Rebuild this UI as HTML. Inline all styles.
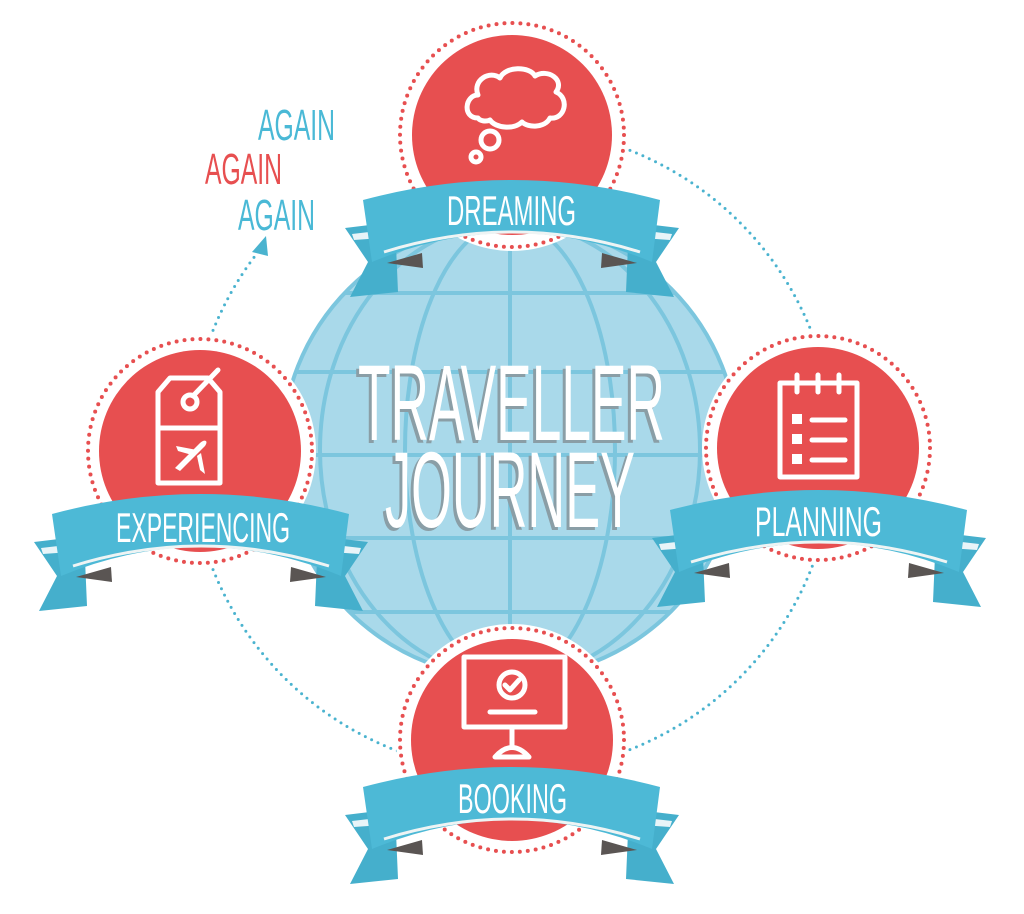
<!DOCTYPE html>
<html><head><meta charset="utf-8"><style>
html,body{margin:0;padding:0;background:#fff;}
svg{display:block;}
text{font-family:"Liberation Sans",sans-serif;}
</style></head><body>
<svg width="1024" height="914" viewBox="0 0 1024 914" xmlns="http://www.w3.org/2000/svg">
<defs>
<clipPath id="gc"><circle cx="510" cy="450" r="228"/></clipPath>
<g id="rib">
  <path d="M-167,18 L-117,12 L-114,82 L-162,87 L-144,52 Z" fill="#45afcc"/>
  <path d="M167,18 L117,12 L114,82 L162,87 L144,52 Z" fill="#45afcc"/>
  <path d="M-160,24 L-117,19 L-117,27 L-158,30 Z" fill="#e8f4f8"/>
  <path d="M160,24 L117,19 L117,27 L158,30 Z" fill="#e8f4f8"/>
  <path d="M-149,-10 Q0,-50 148,-10 L140,52 Q0,-6 -140,52 Z" fill="#4db9d6"/>
  <path d="M-128,42 Q0,2 128,42" stroke="#eef4f4" stroke-width="3" fill="none"/>
  <path d="M-125,53 L-90,43 L-89,58 Z" fill="#5a5553"/>
  <path d="M125,53 L90,43 L89,58 Z" fill="#5a5553"/>
</g>
</defs>

<!-- globe -->
<circle cx="510" cy="450" r="228" fill="#a9d9ea"/>
<g clip-path="url(#gc)" stroke="#7cc6de" stroke-width="4" fill="none">
  <line x1="280" y1="293" x2="740" y2="293"/>
  <line x1="280" y1="372" x2="740" y2="372"/>
  <line x1="280" y1="455" x2="740" y2="455"/>
  <line x1="280" y1="538" x2="740" y2="538"/>
  <line x1="280" y1="612" x2="740" y2="612"/>
  <line x1="510" y1="220" x2="510" y2="680"/>
  <ellipse cx="510" cy="450" rx="105" ry="228"/>
  <ellipse cx="510" cy="450" rx="190" ry="228"/>
</g>
<circle cx="510" cy="450" r="228" fill="none" stroke="#7cc6de" stroke-width="4"/>

<!-- connector dotted circle -->
<circle cx="512" cy="450" r="322" fill="none" stroke="#4ab3cf" stroke-width="3" stroke-dasharray="0 7" stroke-linecap="round"/>
<path d="M262,246 L270,100 L420,100 L420,200 Z" fill="#fff"/>
<rect x="215" y="120" width="140" height="120" fill="#fff"/>
<path d="M252,252 L266,236 L268,256 Z" fill="#4ab3cf"/>

<!-- AGAIN -->
<text x="258" y="140" font-size="44" fill="#4ab9d6" textLength="77" lengthAdjust="spacingAndGlyphs">AGAIN</text>
<text x="205" y="184" font-size="44" fill="#e74f50" textLength="77" lengthAdjust="spacingAndGlyphs">AGAIN</text>
<text x="238" y="230" font-size="44" fill="#4ab9d6" textLength="77" lengthAdjust="spacingAndGlyphs">AGAIN</text>

<!-- title -->
<g font-size="108">
<text x="355" y="443" fill="#8a9ea6" textLength="307" lengthAdjust="spacingAndGlyphs">TRAVELLER</text>
<text x="358" y="440" fill="#fff" textLength="307" lengthAdjust="spacingAndGlyphs">TRAVELLER</text>
<text x="382" y="530" fill="#8a9ea6" textLength="250" lengthAdjust="spacingAndGlyphs">JOURNEY</text>
<text x="385" y="527" fill="#fff" textLength="250" lengthAdjust="spacingAndGlyphs">JOURNEY</text>
</g>

<!-- nodes -->
<g>
<circle cx="512" cy="135" r="116" fill="#fff"/>
<circle cx="512" cy="135" r="112" fill="none" stroke="#e74f50" stroke-width="4" stroke-dasharray="0 8" stroke-linecap="round"/>
<circle cx="512" cy="135" r="100" fill="#e74f50"/>
<circle cx="200" cy="451" r="116" fill="#fff"/>
<circle cx="200" cy="451" r="112" fill="none" stroke="#e74f50" stroke-width="4" stroke-dasharray="0 8" stroke-linecap="round"/>
<circle cx="200" cy="451" r="101" fill="#e74f50"/>
<circle cx="818" cy="448" r="116" fill="#fff"/>
<circle cx="818" cy="448" r="112" fill="none" stroke="#e74f50" stroke-width="4" stroke-dasharray="0 8" stroke-linecap="round"/>
<circle cx="818" cy="448" r="101" fill="#e74f50"/>
<circle cx="512" cy="740" r="116" fill="#fff"/>
<circle cx="512" cy="740" r="112" fill="none" stroke="#e74f50" stroke-width="4" stroke-dasharray="0 8" stroke-linecap="round"/>
<circle cx="512" cy="740" r="101" fill="#e74f50"/>
</g>

<!-- icons -->
<g fill="none" stroke="#fff" stroke-width="5" stroke-linecap="round" stroke-linejoin="round">
  <path d="M478,118 C462,118 465,95 478,95 C472,80 490,70 500,78 C505,66 530,66 535,76 C548,68 565,80 556,92 C570,98 565,120 550,118 C545,128 528,128 522,122 C514,130 495,128 490,120 C486,122 480,121 478,118 Z"/>
  <circle cx="490" cy="140" r="9"/>
  <circle cx="476" cy="157" r="5"/>
  <path d="M170,378 L208,378 L220,392 L220,483 L158,483 L158,392 Z"/>
  <line x1="158" y1="428" x2="220" y2="428"/>
  <circle cx="190" cy="402" r="7"/>
  <path d="M193,396 L218,370"/>
  <rect x="780" y="383" width="77" height="94"/>
  <line x1="797" y1="375" x2="797" y2="392"/>
  <line x1="818" y1="375" x2="818" y2="392"/>
  <line x1="839" y1="375" x2="839" y2="392"/>
  <line x1="812" y1="420" x2="845" y2="420"/>
  <line x1="812" y1="440" x2="845" y2="440"/>
  <line x1="812" y1="460" x2="845" y2="460"/>
  <rect x="464" y="657" width="101" height="70"/>
  <circle cx="512" cy="685" r="13"/>
  <path d="M505,685 L510,690 L519,680"/>
  <line x1="490" y1="712" x2="535" y2="712"/>
  <line x1="512" y1="727" x2="512" y2="745"/>
  <path d="M495,757 Q512,738 529,757 Z"/>
</g>
<g fill="#fff">
  <path d="M175,468 L200,443 C204,439 209,440 205,446 L180,471 Z"/>
  <path d="M176,446 L197,450 L192,455 L178,451 Z"/>
  <path d="M201,453 L205,474 L200,470 L197,456 Z"/>
  <rect x="792" y="414" width="10" height="10"/>
  <rect x="792" y="434" width="10" height="10"/>
  <rect x="792" y="454" width="10" height="10"/>
</g>

<!-- ribbons -->
<use href="#rib" transform="translate(512,210)"/>
<use href="#rib" transform="translate(201,524)"/>
<use href="#rib" transform="translate(819,520)"/>
<use href="#rib" transform="translate(512,797)"/>

<g font-size="42" fill="#fff">
<text x="447" y="225" textLength="129" lengthAdjust="spacingAndGlyphs">DREAMING</text>
<text x="116" y="542" textLength="174" lengthAdjust="spacingAndGlyphs">EXPERIENCING</text>
<text x="755" y="536" textLength="127" lengthAdjust="spacingAndGlyphs">PLANNING</text>
<text x="458" y="813" textLength="109" lengthAdjust="spacingAndGlyphs">BOOKING</text>
</g>
</svg>
</body></html>
